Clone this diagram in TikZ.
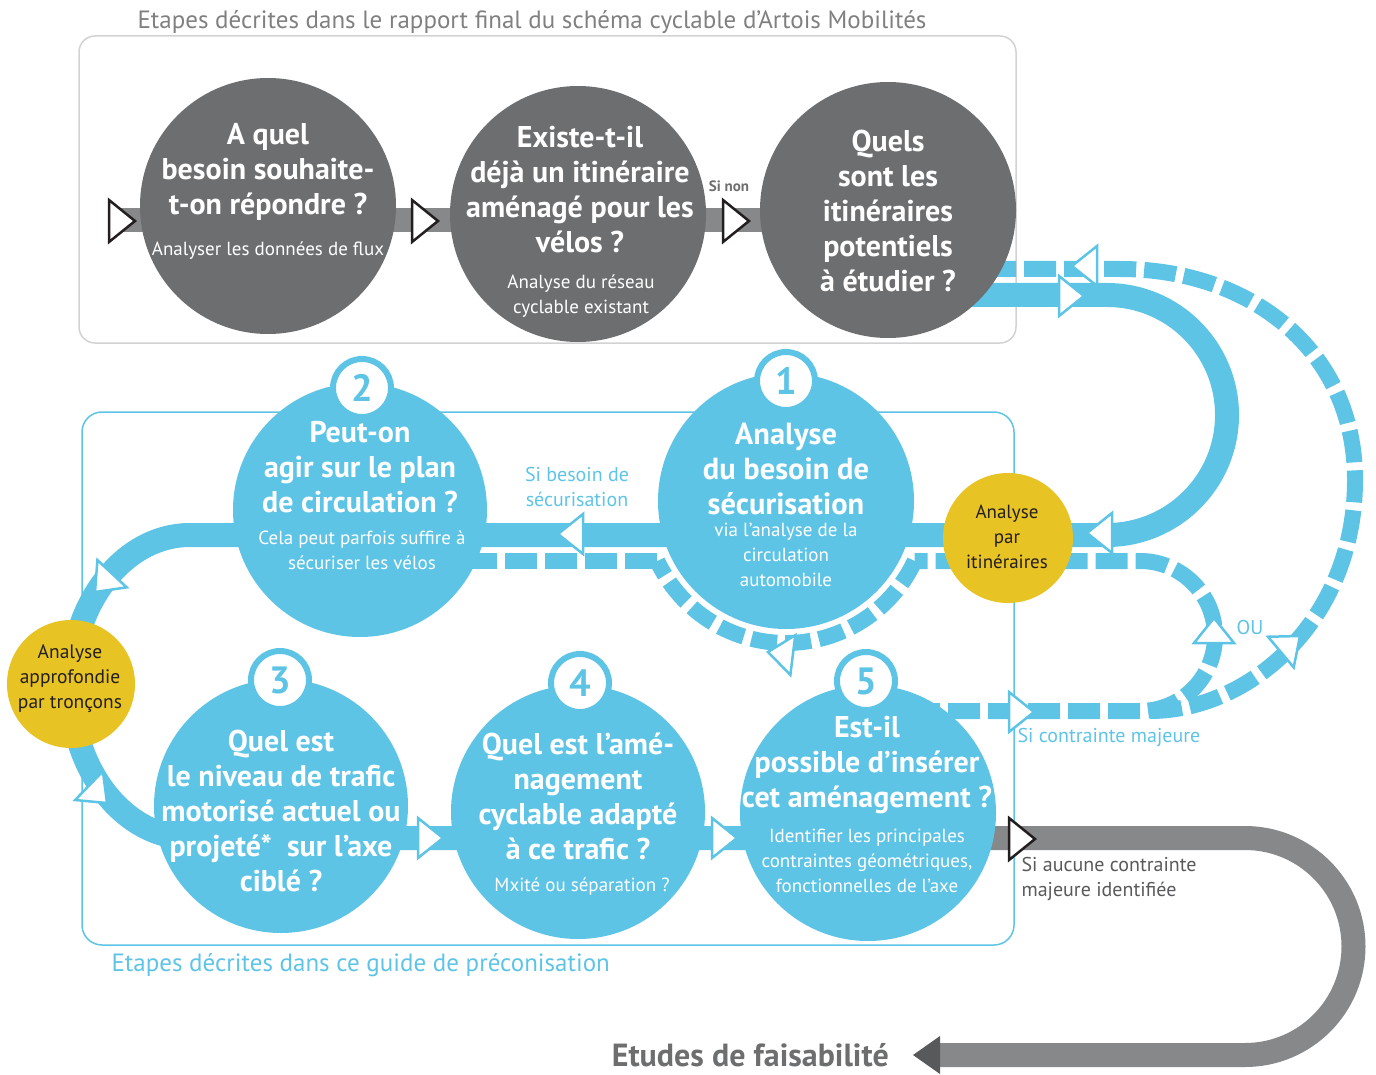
\documentclass[tikz,border=0pt]{standalone}
\usepackage{fontspec}
\setmainfont{PT Sans}
\definecolor{cblue}{RGB}{94,196,230}
\definecolor{cdark}{RGB}{109,110,112}
\definecolor{cgray}{RGB}{135,136,138}
\definecolor{cbox}{RGB}{210,210,212}
\definecolor{ctitle}{RGB}{128,128,130}
\definecolor{cyellow}{RGB}{232,195,36}
\definecolor{carrow}{RGB}{88,89,91}
\definecolor{cink}{RGB}{35,31,32}
\pgfdeclarelayer{boxlayer}
\pgfdeclarelayer{bandlayer}
\pgfsetlayers{boxlayer,bandlayer,main}
\tikzset{
  gcirc/.style={circle, fill=cdark, minimum size=256pt, inner sep=0pt},
  bcirc/.style={circle, fill=cblue, minimum size=256pt, inner sep=0pt},
  ycirc/.style={circle, fill=cyellow, minimum size=130pt, inner sep=0pt},
  badge/.style={circle, fill=white, draw=cblue, line width=6pt, minimum size=58pt, inner sep=0pt, text=cblue, font=\bfseries\fontsize{38}{38}\selectfont},
  qtext/.style={text=white, align=center, font=\bfseries\fontsize{30}{35}\selectfont},
  subtext/.style={text=white, align=center, font=\fontsize{19}{25}\selectfont},
  ytext/.style={text=cink, align=center, font=\fontsize{19}{25}\selectfont},
  bandb/.style={draw=cblue, line width=24pt},
  bandg/.style={draw=cgray, line width=24pt},
  dashb/.style={draw=cblue, line width=16pt, dash pattern=on 32pt off 8pt},
  dashc/.style={draw=cblue, line width=16pt, dash pattern=on 26pt off 8pt},
  arrw/.pic={\draw[pic actions] (0,0) -- (-25,20) -- (-25,-20) -- cycle;},
  garrw/.pic={\draw[pic actions] (0,0) -- (-26,21) -- (-26,-21) -- cycle;},
  barrow/.style={draw=cblue, fill=white, line width=2.5pt, line join=miter},
  darrow/.style={draw=cink, fill=white, line width=2.5pt, line join=miter},
}
\begin{document}
\begin{tikzpicture}[x=1pt, y=1pt]
\useasboundingbox (0,0) rectangle (1376,-1075);

% ---- circles (main layer) ----
\node[gcirc] (g1) at (268,-206) {};
\node[gcirc] (g2) at (578,-214) {};
\node[gcirc] (g3) at (888,-210) {};
\node[bcirc] (b1) at (786,-501) {};
\node[bcirc, minimum size=254pt] (b2) at (360,-510) {};
\node[bcirc, minimum size=254pt] (b3) at (281,-806) {};
\node[bcirc, minimum size=254pt] (b4) at (578,-812) {};
\node[bcirc] (b5) at (868,-813) {};
\node[badge] (n1) at (786,-381) {1};
\node[badge] (n2) at (362,-388) {2};
\node[badge] (n3) at (280,-680) {3};
\node[badge] (n4) at (580,-683) {4};
\node[badge] (n5) at (866,-681) {5};
\node[ycirc] (y1) at (1008,-538) {};
\node[ycirc, minimum size=128pt] (y2) at (71,-684) {};

% ---- boxes ----
\begin{pgfonlayer}{boxlayer}
\draw[cbox, line width=1.5pt, rounded corners=16pt] (79,-36) rectangle (1016,-343);
\draw[cblue, line width=1.5pt, rounded corners=20pt] (82,-412) rectangle (1014,-945);
\end{pgfonlayer}

% ---- bands ----
\begin{pgfonlayer}{bandlayer}
\coordinate (gs) at (108,-220);
\draw[bandg] (gs) -- (gs -| g3);
\coordinate (tr) at (1107,-295);
\coordinate (bl) at (190,-838);
\draw[bandb] (tr -| g3) -- (tr) arc[start angle=90, end angle=-90, radius=120]
  -- (190,-535) arc[start angle=90, end angle=270, x radius=119, y radius=151.5]
  -- (bl -| b5);
\coordinate (gr) at (1245,-838);
\draw[bandg] (gr -| b5) -- (gr) arc[start angle=90, end angle=-90, radius=108.5] -- (940,-1055);
% dashed returns
\coordinate (dr) at (1140,-711);
\draw[dashb] (dr -| b5) -- (dr) arc[start angle=-90, end angle=90, radius=75] -- (914.7,-561);
\draw[dashc] (914.7,-561) arc[start angle=-25, end angle=-155, radius=142];
\draw[dashb] (657.3,-561) -- (b2.center |- 0,-561);
\coordinate (tt) at (1120,-269);
\draw[dashb] (1150,-711) .. controls (1250,-711) and (1355,-620) .. (1355,-480)
  .. controls (1355,-350) and (1250,-269) .. (tt) -- (tt -| g3);
\end{pgfonlayer}

% ---- arrowheads ----
\pic[darrow] at (135,-221) {garrw};
\pic[darrow] at (438,-221) {garrw};
\pic[darrow] at (749,-221) {garrw};
\pic[darrow] at (1035,-839) {garrw};
\fill[carrow] (913,-1055) -- (940,-1036) -- (940,-1074) -- cycle;
\pic[barrow] at (1084,-296) {arrw};
\pic[barrow, rotate=180] at (1072,-266) {arrw};
\pic[barrow, rotate=180] at (1087,-533) {arrw};
\pic[barrow, rotate=90] at (1214,-618) {arrw};
\pic[barrow, rotate=40] at (1300,-636) {arrw};
\pic[barrow] at (1034,-712) {arrw};
\pic[barrow, rotate=180] at (558,-534) {arrw};
\pic[barrow, rotate=173] at (768,-652) {arrw};
\pic[barrow, rotate=227] at (95,-592) {arrw};
\pic[barrow, rotate=-44] at (107,-803) {arrw};
\pic[barrow] at (443,-838) {arrw};
\pic[barrow] at (737,-838) {arrw};

% ---- texts ----
\node[text=ctitle, font=\fontsize{25}{25}\selectfont, anchor=base] (t1) at (532,-29) {Etapes décrites dans le rapport final du schéma cyclable d’Artois Mobilités};
\node[text=cblue, font=\fontsize{25}{25}\selectfont, anchor=base west] (t2) at (108,-971) {Etapes décrites dans ce guide de préconisation};

\node[qtext] at (268,-172) {A quel\\besoin souhaite-\\t-on répondre ?};
\node[subtext] at (268,-251) {Analyser les données de flux};
\node[qtext] at (580,-189.5) {Existe-t-il\\déjà un itinéraire\\aménagé pour les\\vélos ?};
\node[subtext] at (581,-296.5) {Analyse du réseau\\cyclable existant};
\node[qtext] at (888,-211) {Quels\\sont les\\itinéraires\\potentiels\\à étudier ?};
\node[text=cdark, font=\bfseries\fontsize{15}{15}\selectfont] at (729,-186) {Si non};

\node[qtext, font=\bfseries\fontsize{30.5}{35}\selectfont] at (786,-468.5) {Analyse\\du besoin de\\sécurisation};
\node[subtext] at (786,-555) {via l’analyse de la\\circulation\\automobile};
\node[qtext] at (360,-467) {Peut-on\\agir sur le plan\\de circulation ?};
\node[subtext] at (362,-550.5) {Cela peut parfois suffire à\\sécuriser les vélos};
\node[qtext] at (281,-810.5) {Quel est\\le niveau de trafic\\motorisé actuel ou\\projeté*\ \ sur l’axe\\ciblé ?};
\node[qtext] at (578,-796.5) {Quel est l’amé-\\nagement\\cyclable adapté\\à ce trafic ?};
\node[subtext] at (582,-887) {Mxité ou séparation ?};
\node[qtext] at (867,-765) {Est-il\\possible d’insérer\\cet aménagement ?};
\node[subtext] at (867,-861) {Identifier les principales\\contraintes géométriques,\\fonctionnelles de l’axe};

\node[ytext] at (1007,-537) {Analyse\\par\\itinéraires};
\node[ytext, font=\fontsize{19.5}{25}\selectfont] at (70,-679) {Analyse\\approfondie\\par tronçons};

\node[text=cblue, align=center, font=\fontsize{20}{25}\selectfont] at (577,-486.5) {Si besoin de\\sécurisation};
\node[text=cblue, font=\fontsize{20}{20}\selectfont] at (1250,-627) {OU};
\node[text=cblue, font=\fontsize{20}{20}\selectfont, anchor=west] at (1014,-737) {Si contrainte majeure};
\node[text=carrow, align=left, font=\fontsize{20}{25}\selectfont, anchor=west] at (1018,-878.5) {Si aucune contrainte\\majeure identifiée};
\node[text=cdark, inner sep=0pt, font=\bfseries\fontsize{32}{32}\selectfont, anchor=base east] at (889,-1066) {Etudes de faisabilité};
\end{tikzpicture}
\end{document}
